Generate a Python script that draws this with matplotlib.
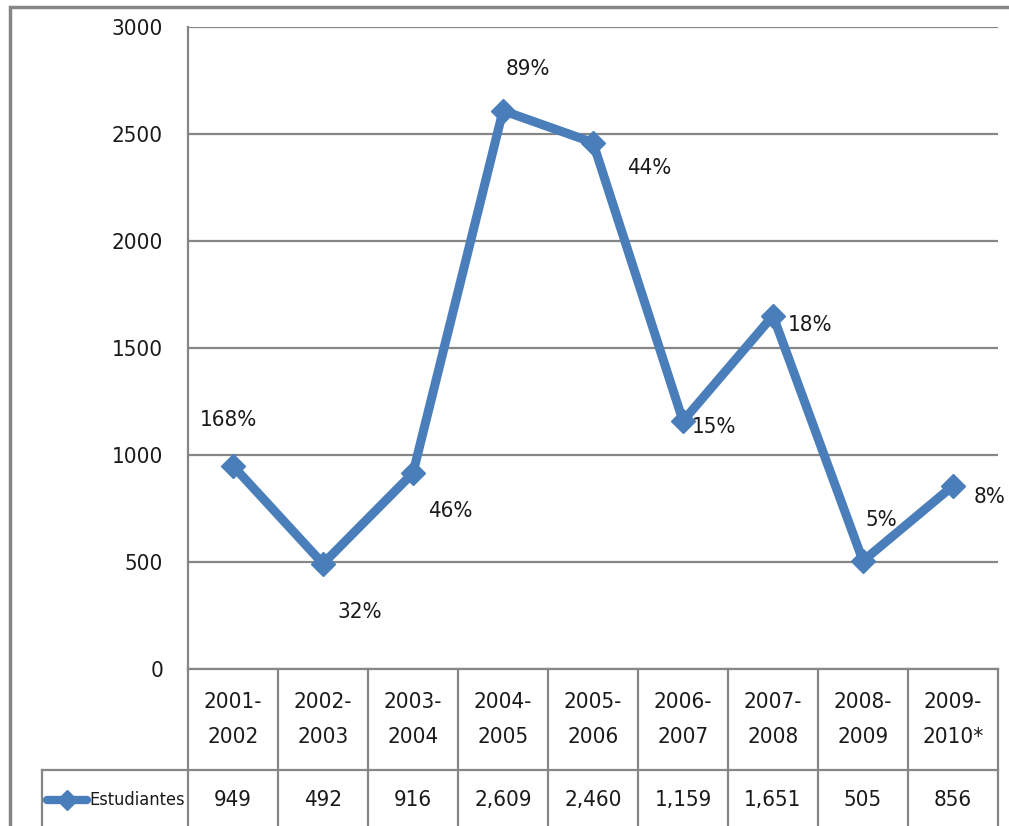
import matplotlib.pyplot as plt
import matplotlib.transforms as mtransforms
from matplotlib.patches import Rectangle

plt.rcParams['font.family'] = ['DejaVu Sans']
plt.rcParams['font.stretch'] = 'condensed'

periodos = ["2001-\n2002", "2002-\n2003", "2003-\n2004", "2004-\n2005", "2005-\n2006",
            "2006-\n2007", "2007-\n2008", "2008-\n2009", "2009-\n2010*"]
estudiantes = [949, 492, 916, 2609, 2460, 1159, 1651, 505, 856]
crecimiento = ["168%", "32%", "46%", "89%", "44%", "15%", "18%", "5%", "8%"]
# where each percentage sits relative to its point (pixels)
offsets = [(-5, 46), (37, -48), (37, -38), (25, 42), (56, -25),
           (31, -6), (37, -9), (18, 41), (37, -11)]

azul = "#4A7EBB"
gris = "#868686"
fs = 16

fig = plt.figure(figsize=(10.09, 8.26), dpi=100)
ax = fig.add_axes([188 / 1009, 157 / 826, 810 / 1009, 642 / 826])

x = list(range(len(estudiantes)))
ax.plot(x, estudiantes, color=azul, lw=6.5, marker="D", ms=12,
        solid_joinstyle="miter", zorder=3)

for xi, yi, lab, (dx, dy) in zip(x, estudiantes, crecimiento, offsets):
    ax.annotate(lab, (xi, yi), xytext=(dx, dy), textcoords="offset pixels",
                ha="center", va="center", fontsize=fs, color="#1a1a1a")

ax.set_xlim(-0.5, len(x) - 0.5)
ax.set_ylim(0, 3000)
ax.set_yticks(range(0, 3001, 500))
ax.set_xticks([])
ax.tick_params(axis="y", length=0, pad=18, labelsize=fs, labelcolor="#1a1a1a")
ax.grid(axis="y", color=gris, lw=1.6)
ax.set_axisbelow(True)
for s in ["top", "right"]:
    ax.spines[s].set_visible(False)
ax.spines["left"].set_color(gris)
ax.spines["left"].set_linewidth(1.6)
ax.spines["bottom"].set_color(gris)
ax.spines["bottom"].set_linewidth(1.6)

# data table under the axis
blend = mtransforms.blended_transform_factory(ax.transData, ax.transAxes)
h1 = -101 / 642
h2 = -165 / 642
left_lbl = -146 / 810
kw = dict(color=gris, lw=1.6, clip_on=False)
for i in range(len(x) + 1):
    ax.plot([i - 0.5, i - 0.5], [0, h2], transform=blend, **kw)
ax.plot([left_lbl, 1], [h1, h1], transform=ax.transAxes, **kw)
ax.plot([left_lbl, left_lbl], [h1, h2], transform=ax.transAxes, **kw)

for xi, per, val in zip(x, periodos, estudiantes):
    ax.text(xi, h1 / 2, per, transform=blend, ha="center", va="center",
            fontsize=fs, linespacing=1.9, color="#1a1a1a")
    ax.text(xi, -131 / 642, f"{val:,}", transform=blend, ha="center",
            va="center", fontsize=fs, color="#1a1a1a")

# legend key inside the row label cell
ax.plot([-141 / 810, -101 / 810], [-131 / 642, -131 / 642], transform=ax.transAxes,
        color=azul, lw=6, solid_capstyle="round", clip_on=False)
ax.plot([-121 / 810], [-131 / 642], transform=ax.transAxes, color=azul,
        marker="D", ms=10, clip_on=False)
ax.text(-99 / 810, -131 / 642, "Estudiantes", transform=ax.transAxes,
        ha="left", va="center", fontsize=13, color="#1a1a1a")

# chart frame
fig.patches.append(Rectangle((10 / 1009, -0.05), 1.1, 819 / 826 + 0.05,
                             transform=fig.transFigure, fill=False,
                             edgecolor=gris, lw=2.5))

fig.savefig("out.png", dpi=100)
